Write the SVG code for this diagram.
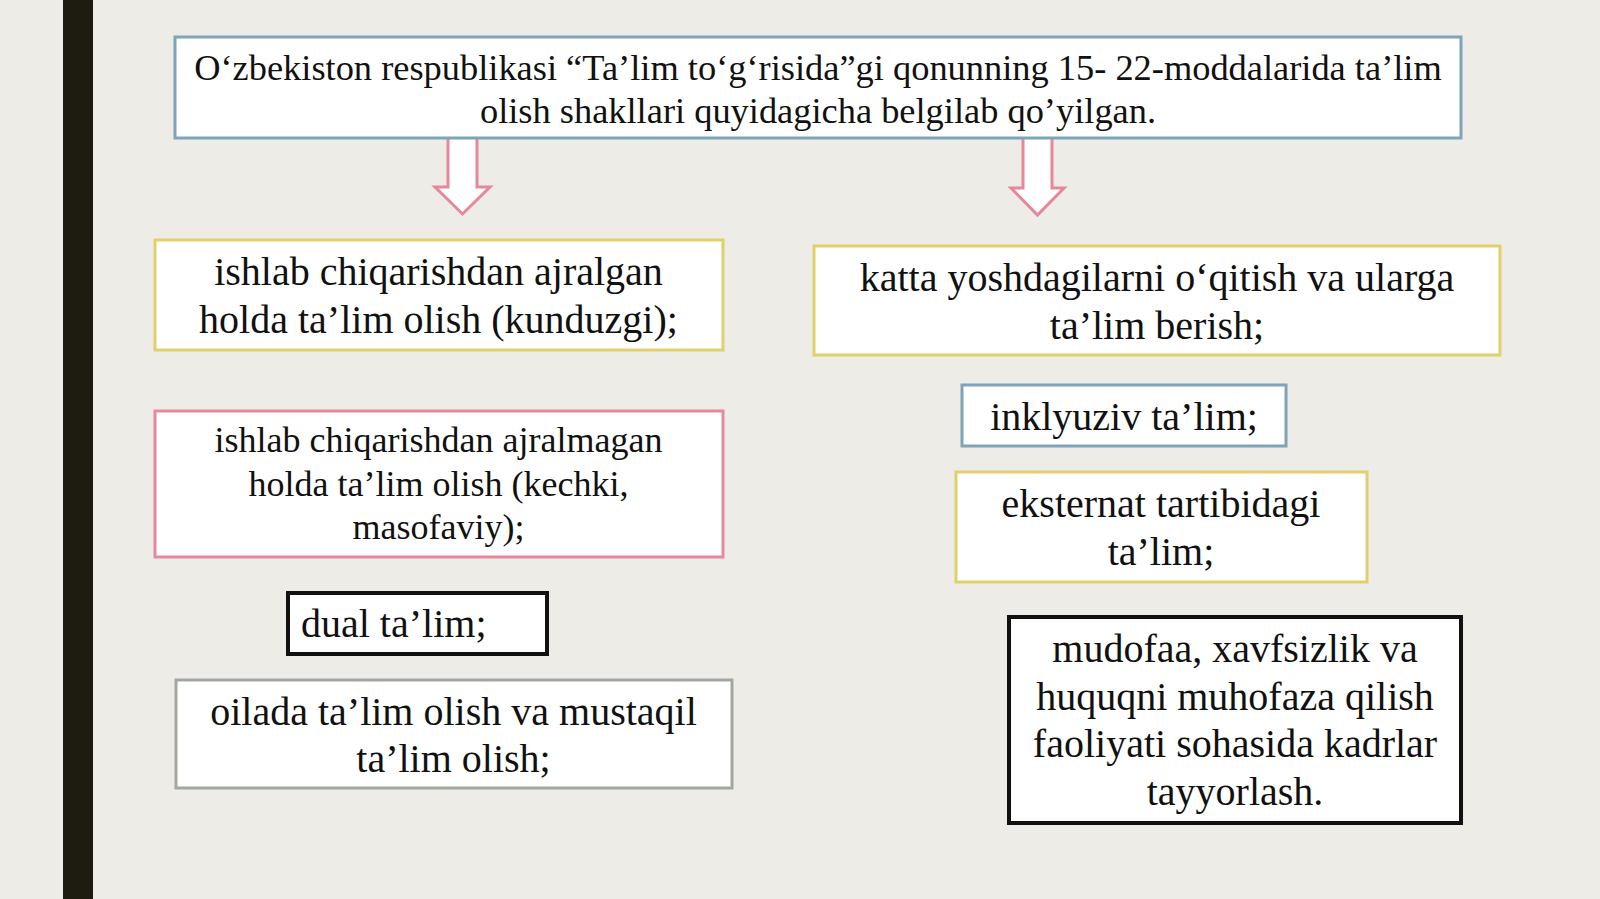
<svg xmlns="http://www.w3.org/2000/svg" width="1600" height="899" viewBox="0 0 1600 899">
<style>
.box{fill:#ffffff;stroke-width:3}
.blue{stroke:#7fa3b8}
.yellow{stroke:#e2cf6c}
.pink{stroke:#e6899c}
.gray{stroke:#a2a89e}
.black{stroke:#111111;stroke-width:4}
.arrow{fill:#ffffff;stroke:#e4889a;stroke-width:3;stroke-linejoin:miter}
text{font-family:"Liberation Serif","Times New Roman",serif;fill:#111111;text-anchor:middle}
.t36{font-size:36px}
.top{font-size:36.4px}
.t40{font-size:40px}
</style>
<rect x="0" y="0" width="1600" height="899" fill="#eeece6"/>
<rect x="63" y="0" width="30" height="899" fill="#1e1b10"/>

<g id="connectors">
<polygon class="arrow" points="448,137 477,137 477,187 490,187 462.5,214 435,187 448,187"/>
<polygon class="arrow" points="1023,137 1052,137 1052,188 1064,188 1037.5,215 1011,188 1023,188"/>
</g>

<g id="node-top">
<rect class="box blue" x="175" y="37" width="1286" height="101"/>
<text class="top" x="818" y="80">O‘zbekiston respublikasi “Ta’lim to‘g‘risida”gi qonunning 15- 22-moddalarida ta’lim</text>
<text class="top" x="818" y="123">olish shakllari quyidagicha belgilab qo’yilgan.</text>
</g>

<g id="node-kunduzgi">
<rect class="box yellow" x="155" y="240" width="568" height="110"/>
<text class="t40" x="438.5" y="285">ishlab chiqarishdan ajralgan</text>
<text class="t40" x="438.5" y="333">holda ta’lim olish (kunduzgi);</text>
</g>

<g id="node-kechki">
<rect class="box pink" x="155" y="411" width="568" height="146"/>
<text class="t36" x="438.5" y="452">ishlab chiqarishdan ajralmagan</text>
<text class="t36" x="438.5" y="496">holda ta’lim olish (kechki,</text>
<text class="t36" x="438.5" y="539">masofaviy);</text>
</g>

<g id="node-dual">
<rect class="box black" x="288" y="593" width="259" height="61"/>
<text class="t40" x="301" y="637" style="text-anchor:start">dual ta’lim;</text>
</g>

<g id="node-oilada">
<rect class="box gray" x="176" y="680" width="556" height="108"/>
<text class="t40" x="453.5" y="725">oilada ta’lim olish va mustaqil</text>
<text class="t40" x="453.5" y="772">ta’lim olish;</text>
</g>

<g id="node-katta">
<rect class="box yellow" x="814" y="246" width="686" height="109"/>
<text class="t40" x="1157" y="291">katta yoshdagilarni o‘qitish va ularga</text>
<text class="t40" x="1157" y="339">ta’lim berish;</text>
</g>

<g id="node-inklyuziv">
<rect class="box blue" x="962" y="385" width="324" height="61"/>
<text class="t40" x="1124" y="430">inklyuziv ta’lim;</text>
</g>

<g id="node-eksternat">
<rect class="box yellow" x="956" y="472" width="411" height="110"/>
<text class="t40" x="1161" y="517">eksternat tartibidagi</text>
<text class="t40" x="1161" y="565">ta’lim;</text>
</g>

<g id="node-mudofaa">
<rect class="box black" x="1009" y="617" width="452" height="206"/>
<text class="t40" x="1235" y="662">mudofaa, xavfsizlik va</text>
<text class="t40" x="1235" y="710">huquqni muhofaza qilish</text>
<text class="t40" x="1235" y="757">faoliyati sohasida kadrlar</text>
<text class="t40" x="1235" y="805">tayyorlash.</text>
</g>
</svg>
